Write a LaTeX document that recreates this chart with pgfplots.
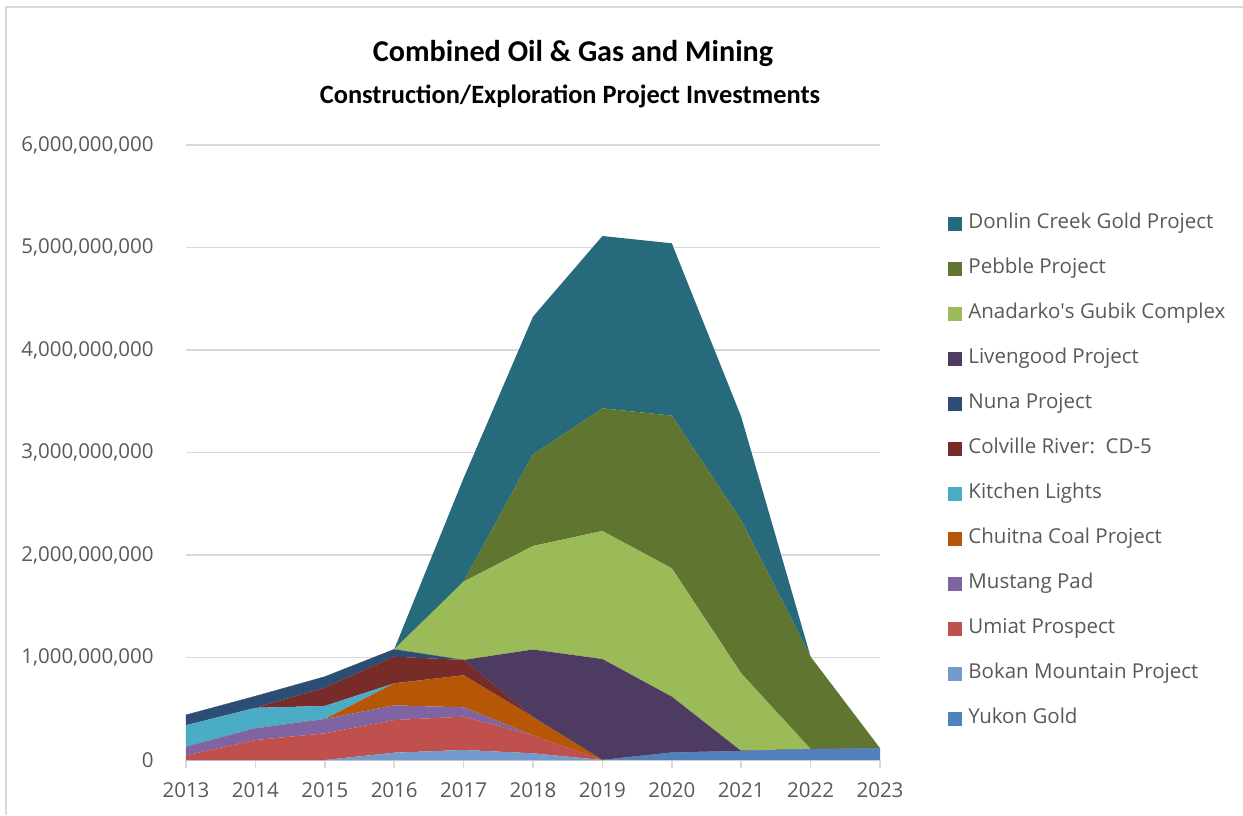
\documentclass[border=0pt]{standalone}
\usepackage{pgfplots}
\pgfplotsset{compat=1.18}
\usepackage{fontspec}
\setmainfont{Open Sans}
\newfontfamily\titlefont{Carlito}
\definecolor{gridgray}{HTML}{D9D9D9}
\definecolor{txtgray}{HTML}{595959}
\definecolor{cDonlin}{HTML}{276A7C}
\definecolor{cPebble}{HTML}{5F7530}
\definecolor{cAnadarko}{HTML}{9BBB59}
\definecolor{cLivengood}{HTML}{4D3B62}
\definecolor{cNuna}{HTML}{2C4D75}
\definecolor{cColville}{HTML}{772C2A}
\definecolor{cKitchen}{HTML}{4BACC6}
\definecolor{cChuitna}{HTML}{B65708}
\definecolor{cMustang}{HTML}{8064A2}
\definecolor{cUmiat}{HTML}{C0504D}
\definecolor{cBokan}{HTML}{729ACA}
\definecolor{cYukon}{HTML}{4F81BD}
\begin{document}
\begin{tikzpicture}
\useasboundingbox (0,0) rectangle (621.5pt,407.5pt);
\fill[white] (0,0) rectangle (621.5pt,407.5pt);
\draw[gridgray, line width=1pt] (2.75pt,0) -- (2.75pt,403.75pt) -- (621.5pt,403.75pt);
\node[font=\titlefont\bfseries\fontsize{15.1pt}{17pt}\selectfont, text=black] at (286.5pt,381pt) {Combined Oil \& Gas and Mining};
\node[font=\titlefont\bfseries\fontsize{13.2pt}{15pt}\selectfont, text=black] at (285pt,359.5pt) {Construction/Exploration Project Investments};
\begin{axis}[
  at={(93pt,27.5pt)}, anchor=south west,
  scale only axis, width=347pt, height=307.5pt,
  xmin=2013, xmax=2023, ymin=0, ymax=6000000000,
  axis lines*=left,
  x axis line style={gridgray, line width=0.75pt},
  y axis line style={draw=none},
  xtick={2013,2014,2015,2016,2017,2018,2019,2020,2021,2022,2023},
  xticklabels={2013,2014,2015,2016,2017,2018,2019,2020,2021,2022,2023},
  ytick={0,1000000000,2000000000,3000000000,4000000000,5000000000,6000000000},
  yticklabels={0,{1,000,000,000},{2,000,000,000},{3,000,000,000},{4,000,000,000},{5,000,000,000},{6,000,000,000}},
  scaled y ticks=false,
  tick align=outside,
  x tick style={gridgray, line width=0.75pt},
  major tick length=4pt,
  y tick style={draw=none},
  ymajorgrids, major grid style={gridgray, line width=0.75pt},
  tick label style={font=\fontsize{10.25pt}{12pt}\selectfont, text=txtgray},
  yticklabel style={inner xsep=0pt, xshift=-12pt},
  xticklabel style={inner ysep=0pt, yshift=-7pt},
  stack plots=y,
  area legend,
  reverse legend,
  legend image code/.code={\path[#1] (0pt,-3.5pt) rectangle (7pt,3.5pt);},
  legend style={at={(1.098,0.889)}, anchor=north west, draw=none, fill=none,
    font=\fontsize{10.25pt}{12pt}\selectfont, text=txtgray,
    inner sep=0pt, row sep=12.5pt, column sep=3pt,
    nodes={inner sep=0pt, text height=7.5pt, text depth=2.5pt},
    cells={anchor=west}},
]
\addplot[fill=cYukon, draw=none] coordinates {(2013,0) (2014,0) (2015,0) (2016,0) (2017,0) (2018,0) (2019,0) (2020,72000000) (2021,88000000) (2022,107000000) (2023,114000000)} \closedcycle;
\addlegendentry{Yukon Gold}
\addplot[fill=cBokan, draw=none] coordinates {(2013,0) (2014,0) (2015,0) (2016,71000000) (2017,98000000) (2018,65000000) (2019,0) (2020,0) (2021,0) (2022,0) (2023,0)} \closedcycle;
\addlegendentry{Bokan Mountain Project}
\addplot[fill=cUmiat, draw=none] coordinates {(2013,45000000) (2014,195000000) (2015,260000000) (2016,319000000) (2017,325000000) (2018,175000000) (2019,0) (2020,0) (2021,0) (2022,0) (2023,0)} \closedcycle;
\addlegendentry{Umiat Prospect}
\addplot[fill=cMustang, draw=none] coordinates {(2013,85000000) (2014,114000000) (2015,140000000) (2016,143000000) (2017,91000000) (2018,0) (2019,0) (2020,0) (2021,0) (2022,0) (2023,0)} \closedcycle;
\addlegendentry{Mustang Pad}
\addplot[fill=cChuitna, draw=none] coordinates {(2013,0) (2014,0) (2015,0) (2016,215000000) (2017,312000000) (2018,180000000) (2019,0) (2020,0) (2021,0) (2022,0) (2023,0)} \closedcycle;
\addlegendentry{Chuitna Coal Project}
\addplot[fill=cKitchen, draw=none] coordinates {(2013,210000000) (2014,200000000) (2015,127000000) (2016,0) (2017,0) (2018,0) (2019,0) (2020,0) (2021,0) (2022,0) (2023,0)} \closedcycle;
\addlegendentry{Kitchen Lights}
\addplot[fill=cColville, draw=none] coordinates {(2013,0) (2014,0) (2015,179000000) (2016,260000000) (2017,150000000) (2018,0) (2019,0) (2020,0) (2021,0) (2022,0) (2023,0)} \closedcycle;
\addlegendentry{Colville River:\ \ CD-5}
\addplot[fill=cNuna, draw=none] coordinates {(2013,100000000) (2014,114000000) (2015,107000000) (2016,72000000) (2017,0) (2018,0) (2019,0) (2020,0) (2021,0) (2022,0) (2023,0)} \closedcycle;
\addlegendentry{Nuna Project}
\addplot[fill=cLivengood, draw=none] coordinates {(2013,0) (2014,0) (2015,0) (2016,0) (2017,0) (2018,658000000) (2019,985000000) (2020,546000000) (2021,0) (2022,0) (2023,0)} \closedcycle;
\addlegendentry{Livengood Project}
\addplot[fill=cAnadarko, draw=none] coordinates {(2013,0) (2014,0) (2015,0) (2016,0) (2017,764000000) (2018,1010000000) (2019,1249000000) (2020,1252000000) (2021,757000000) (2022,0) (2023,0)} \closedcycle;
\addlegendentry{Anadarko\textquotesingle s Gubik Complex}
\addplot[fill=cPebble, draw=none] coordinates {(2013,0) (2014,0) (2015,0) (2016,0) (2017,0) (2018,894000000) (2019,1197000000) (2020,1490000000) (2021,1496000000) (2022,900000000) (2023,0)} \closedcycle;
\addlegendentry{Pebble Project}
\addplot[fill=cDonlin, draw=none] coordinates {(2013,0) (2014,0) (2015,0) (2016,0) (2017,1010000000) (2018,1343000000) (2019,1681000000) (2020,1681000000) (2021,1008000000) (2022,0) (2023,0)} \closedcycle;
\addlegendentry{Donlin Creek Gold Project}
\end{axis}
\end{tikzpicture}
\end{document}
